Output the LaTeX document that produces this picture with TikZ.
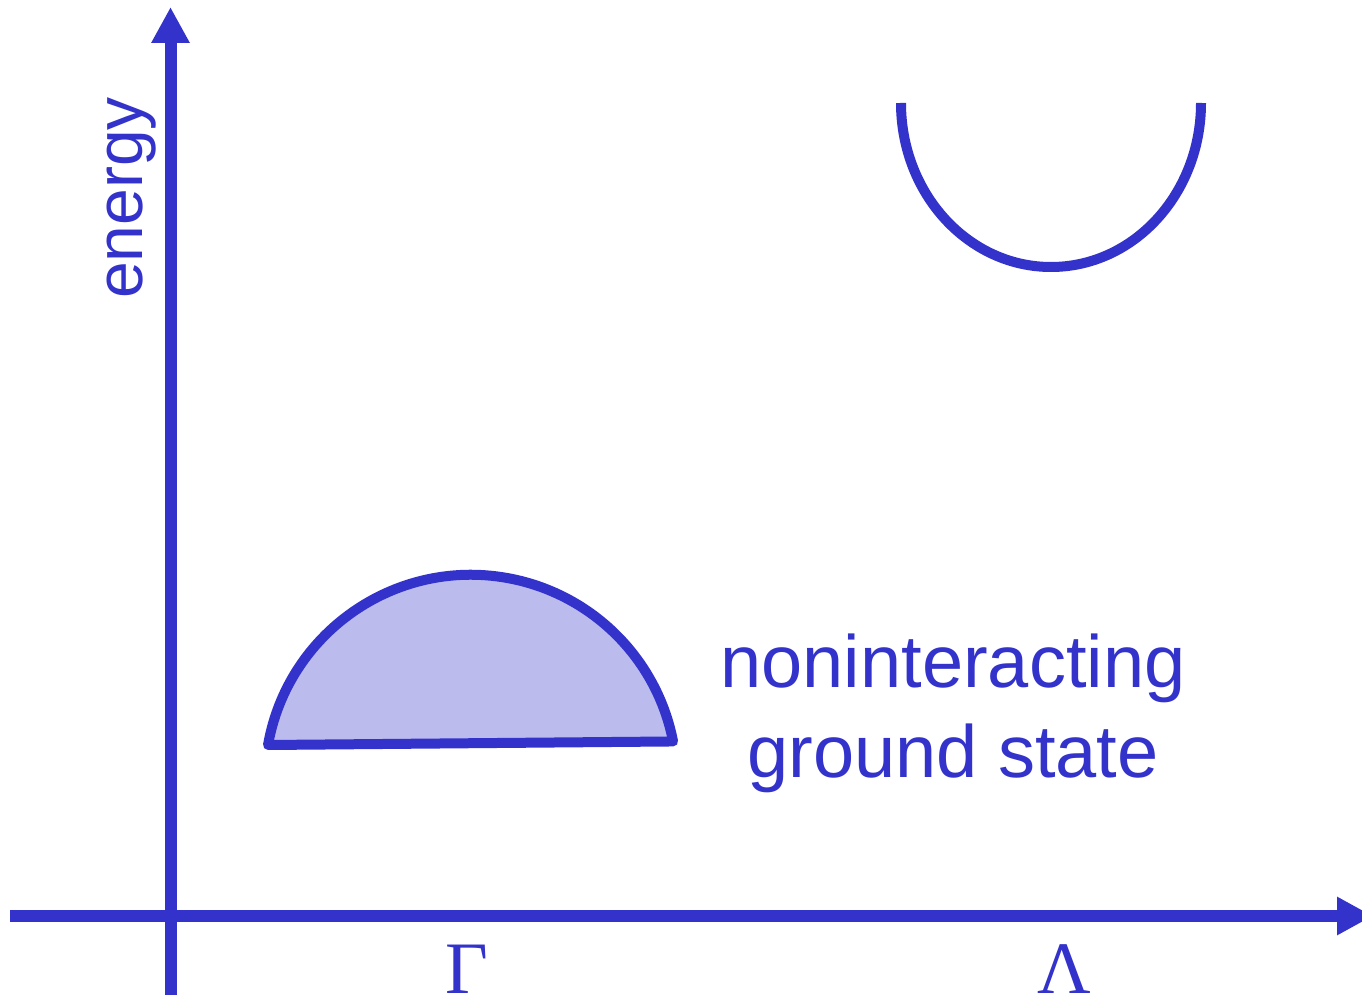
\documentclass[tikz,border=0pt]{standalone}
\usepackage{fontspec}
\setmainfont{Liberation Sans}
\newfontfamily\greekserif{Liberation Serif}
\usetikzlibrary{arrows.meta}
\definecolor{ink}{HTML}{3333CC}
\definecolor{band}{HTML}{BBBBEE}
\begin{document}
\begin{tikzpicture}[x=1pt,y=1pt,
  axis/.style={draw=ink,line width=12pt,-{Triangle[length=36pt,width=36pt]}},
  curve/.style={draw=ink,line width=10pt},
  lbl/.style={text=ink,inner sep=0pt,font=\fontsize{74}{89}\selectfont},
  glbl/.style={text=ink,inner sep=0pt,text depth=0pt,font=\greekserif\fontsize{74}{89}\selectfont}]
\useasboundingbox (0,0) rectangle (1362,999);
% axes
\coordinate (ybot) at (170.5,4);
\coordinate (ytop) at (170.5,992);
\coordinate (xleft) at (10,83);
\coordinate (xright) at (1373,83);
\draw[axis] (ybot) -- (ytop);
\draw[axis] (xleft) -- (xright);
% filled ground state band
\coordinate (gsL) at (268,254);
\draw[curve,fill=band,line join=round] (gsL) arc[start angle=170,end angle=11,radius=206] -- cycle;
% upper band
\coordinate (upL) at (901,896);
\draw[curve] (upL) arc[start angle=180,end angle=360,x radius=150,y radius=164];
% labels
\node[lbl,rotate=90,anchor=base,font=\fontsize{66}{80}\selectfont] (energy) at (142,801) {energy};
\node[lbl,anchor=base] (nonint) at (953,311) {noninteracting};
\node[lbl,anchor=base] (gstate) at (953,222) {ground state};
\node[glbl,anchor=base] (gamma) at (467,6) {Γ};
\node[glbl,anchor=base] (lambda) at (1064,6) {Λ};
\end{tikzpicture}
\end{document}
